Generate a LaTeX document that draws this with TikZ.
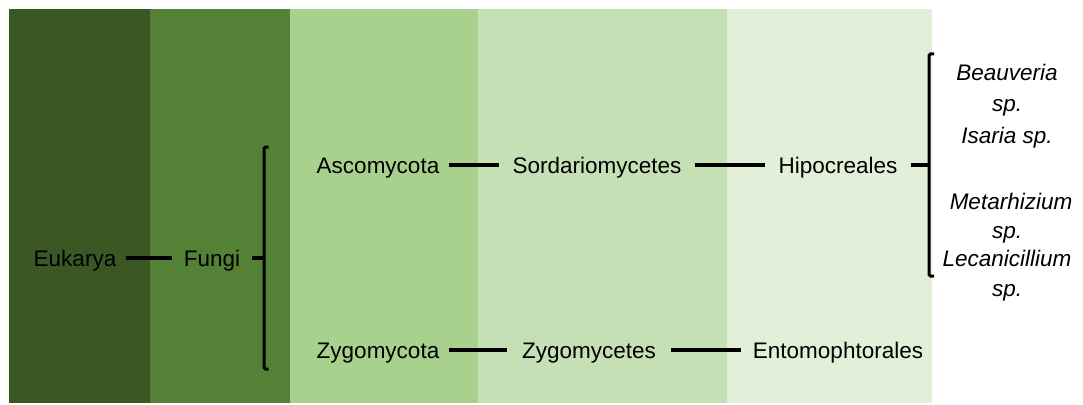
\documentclass[tikz,border=0pt]{standalone}
\usepackage{fontspec}
\setmainfont{Liberation Sans}
\definecolor{bandA}{RGB}{59,88,36}
\definecolor{bandB}{RGB}{83,129,53}
\definecolor{bandC}{RGB}{169,209,142}
\definecolor{bandD}{RGB}{197,224,180}
\definecolor{bandE}{RGB}{226,240,217}
\begin{document}
\begin{tikzpicture}[x=1pt,y=-1pt,
  taxon/.style={font=\fontsize{22.5}{26}\selectfont, inner xsep=10pt, inner ysep=0pt, text height=16pt, text depth=0pt},
  genus/.style={font=\fontsize{22.5}{26}\selectfont\itshape, inner sep=0pt, text height=16pt, text depth=0pt},
  link/.style={line width=3.2pt},
  brace/.style={line width=3pt, rounded corners=1.5pt}]
\useasboundingbox[fill=white] (0,0) rectangle (1083,404);
\fill[bandA] (9,9) rectangle (150,403);
\fill[bandB] (150,9) rectangle (290,403);
\fill[bandC] (290,9) rectangle (478,403);
\fill[bandD] (478,9) rectangle (727,403);
\fill[bandE] (727,9) rectangle (932,403);

\node[taxon] (euk) at (75,258) {Eukarya};
\node[taxon, inner xsep=12pt] (fun) at (212,258) {Fungi};
\node[taxon] (asc) at (378,165) {Ascomycota};
\node[taxon, inner xsep=13pt] (sor) at (597,165) {Sordariomycetes};
\node[taxon, inner xsep=13pt] (hip) at (838,165) {Hipocreales};
\node[taxon] (zyg) at (378,350) {Zygomycota};
\node[taxon, inner xsep=15pt] (zyc) at (589,350) {Zygomycetes};
\node[taxon, inner xsep=12pt] (ent) at (838,350) {Entomophtorales};

\node[genus] (g1) at (1007,72) {Beauveria};
\node[genus] (g2) at (1007,103) {sp.};
\node[genus] (g3) at (1007,135) {Isaria sp.};
\node[genus] (g4) at (1011,201) {Metarhizium};
\node[genus] (g5) at (1007,230) {sp.};
\node[genus] (g6) at (1007,258) {Lecanicillium};
\node[genus] (g7) at (1007,288) {sp.};

\coordinate (fb) at (264,258);
\coordinate (hb) at (929,165);
\draw[brace] (268.5,147) -- (264,147) -- (264,369) -- (268.5,369);
\draw[brace] (934,54) -- (929,54) -- (929,276) -- (934,276);

\draw[link] (euk) -- (fun);
\draw[link] (fun.east) -- (fb);
\draw[link] (asc) -- (sor);
\draw[link] (sor) -- (hip);
\draw[link] (hip.east) -- (hb);
\draw[link] (zyg) -- (zyc);
\draw[link] (zyc) -- (ent);
\end{tikzpicture}
\end{document}
